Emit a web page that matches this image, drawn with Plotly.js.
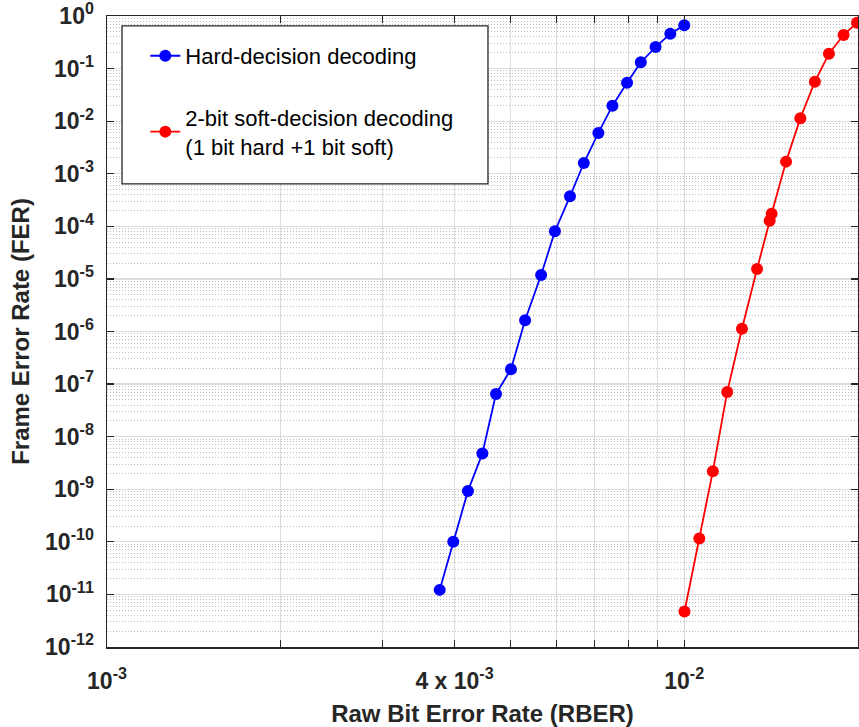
<!DOCTYPE html>
<html>
<head>
<meta charset="utf-8">
<script src="https://cdn.plot.ly/plotly-3.0.1.min.js"></script>
<style>html,body{margin:0;padding:0;background:#fff;}#chart{width:859px;height:727px;}</style>
</head>
<body>
<div id="chart"></div>
<script>
// Hard-decision decoding
const hardRBER = [0.00377, 0.00398, 0.00422, 0.00447, 0.00472, 0.00501, 0.00530, 0.00565, 0.00597, 0.00634, 0.00670, 0.00710, 0.00751, 0.00796, 0.00841, 0.00892, 0.00946, 0.01000];
const hardFER  = [1.22e-11, 1.0e-10, 9.3e-10, 4.77e-9, 6.5e-8, 1.92e-7, 1.64e-6, 1.19e-5, 8.07e-5, 3.73e-4, 1.6e-3, 5.97e-3, 1.97e-2, 5.4e-2, 0.132, 0.257, 0.461, 0.666];
// 2-bit soft-decision decoding
const softRBER = [0.01001, 0.01062, 0.01121, 0.01187, 0.01259, 0.01337, 0.01406, 0.01417, 0.01501, 0.01589, 0.01684, 0.01781, 0.01888, 0.01992];
const softFER  = [4.73e-12, 1.16e-10, 2.21e-9, 7.1e-8, 1.13e-6, 1.55e-5, 1.28e-4, 1.74e-4, 1.7e-3, 1.136e-2, 5.64e-2, 0.192, 0.435, 0.746];

const seriesNames = ['Hard-decision decoding', '2-bit soft-decision decoding<br>(1 bit hard +1 bit soft)'];

const xTickVals = [0.001, 0.002, 0.003, 0.004, 0.005, 0.006, 0.007, 0.008, 0.009, 0.01, 0.02];
const xTickText = ['10<sup>-3</sup>', '', '', '4 x 10<sup>-3</sup>', '', '', '', '', '', '10<sup>-2</sup>', ''];
const yTickVals = [1, 1e-1, 1e-2, 1e-3, 1e-4, 1e-5, 1e-6, 1e-7, 1e-8, 1e-9, 1e-10, 1e-11, 1e-12];
const yTickText = ['10<sup>0</sup>', '10<sup>-1</sup>', '10<sup>-2</sup>', '10<sup>-3</sup>', '10<sup>-4</sup>', '10<sup>-5</sup>', '10<sup>-6</sup>', '10<sup>-7</sup>', '10<sup>-8</sup>', '10<sup>-9</sup>', '10<sup>-10</sup>', '10<sup>-11</sup>', '10<sup>-12</sup>'];

// minor grid positions (2..9 x 10^n)
const yMinor = [];
for (let n = -12; n < 0; n++) { for (let k = 2; k <= 9; k++) { yMinor.push(k * Math.pow(10, n)); } }

const axisColor = '#262626';
const traces = [
  {x: hardRBER, y: hardFER, name: seriesNames[0], mode: 'lines+markers', legendgroup: 'a',
   line: {color: '#0000ff', width: 1.8}, marker: {color: '#0000ff', size: 12}},
  {x: softRBER, y: softFER, name: seriesNames[1], mode: 'lines+markers', legendgroup: 'b',
   line: {color: '#ff0000', width: 1.8}, marker: {color: '#ff0000', size: 12}}
];

const layout = {
  width: 859, height: 727,
  margin: {l: 107, r: 1, t: 16, b: 80},
  paper_bgcolor: '#ffffff', plot_bgcolor: '#ffffff',
  font: {family: 'Liberation Sans, Arial, sans-serif', color: axisColor},
  showlegend: true,
  legend: {x: 0.051, y: 0.97, xanchor: 'left', yanchor: 'top', bgcolor: 'rgba(0,0,0,0)',
           borderwidth: 0, traceorder: 'grouped', tracegroupgap: 30,
           font: {size: 22, color: '#000000', family: 'Liberation Sans, Arial, sans-serif'}},
  shapes: [
    {type: 'rect', xref: 'paper', yref: 'paper', x0: 0.02, x1: 0.5073, y0: 0.7338, y1: 0.9842,
     fillcolor: '#ffffff', line: {color: axisColor, width: 1.3}, layer: 'above'}
  ],
  xaxis: {
    type: 'log', range: [-3, Math.log10(0.02)],
    tickmode: 'array', tickvals: xTickVals, ticktext: xTickText,
    ticks: 'inside', ticklen: 7, tickwidth: 1.3, tickcolor: axisColor,
    showline: true, linecolor: axisColor, linewidth: 1.5, mirror: 'ticks',
    showgrid: true, gridcolor: '#dcdcdc', gridwidth: 1.3,
    zeroline: false, ticklabelstandoff: 13, ticklabeloverflow: 'allow',
    tickfont: {size: 23, weight: 700, color: axisColor},
    title: {text: 'Raw Bit Error Rate (RBER)', font: {size: 24, weight: 700, color: axisColor}, standoff: 14}
  },
  yaxis: {
    type: 'log', range: [-12, 0],
    tickmode: 'array', tickvals: yTickVals, ticktext: yTickText,
    ticks: 'inside', ticklen: 7, tickwidth: 1.3, tickcolor: axisColor,
    showline: true, linecolor: axisColor, linewidth: 1.5, mirror: 'ticks',
    showgrid: true, gridcolor: '#dcdcdc', gridwidth: 1.3,
    minor: {tickmode: 'array', tickvals: yMinor, showgrid: true, gridcolor: '#bdbdbd', gridwidth: 1, griddash: '1px,2px', ticks: ''},
    zeroline: false, ticklabelstandoff: 7, ticklabeloverflow: 'allow',
    tickfont: {size: 23, weight: 700, color: axisColor},
    title: {text: 'Frame Error Rate (FER)', font: {size: 24, weight: 700, color: axisColor}, standoff: 8}
  }
};

Plotly.newPlot('chart', traces, layout, {displayModeBar: false, staticPlot: true});
</script>
</body>
</html>
